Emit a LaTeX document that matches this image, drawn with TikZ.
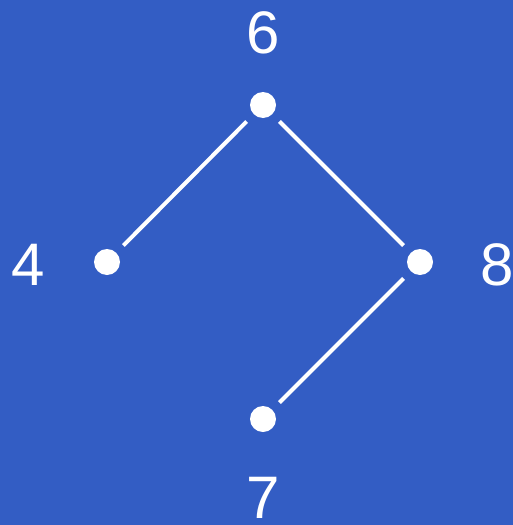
\documentclass[tikz,border=0pt]{standalone}
\usepackage{fontspec}
\setmainfont{Liberation Sans}
\definecolor{bgblue}{RGB}{51,93,196}
\begin{document}
\begin{tikzpicture}[x=1pt,y=-1pt,
  dot/.style={circle,fill=white,draw=none,minimum size=26pt,inner sep=0pt},
  lbl/.style={text=white,inner sep=0pt,font=\fontsize{60}{72}\selectfont},
  edge/.style={draw=white,line width=4pt,shorten <=10pt,shorten >=10pt}]
\fill[bgblue] (0,0) rectangle (513,525);
\useasboundingbox (0,0) rectangle (513,525);
\node[dot] (n6) at (263,105) {};
\node[dot] (n4) at (107,262) {};
\node[dot] (n8) at (420,262) {};
\node[dot] (n7) at (263,419) {};
\node[lbl] (l6) at (263,33) {6};
\node[lbl] (l4) at (28,265) {4};
\node[lbl] (l8) at (497,265) {8};
\node[lbl] (l7) at (263,498) {7};
\draw[edge] (n6) -- (n4);
\draw[edge] (n6) -- (n8);
\draw[edge] (n8) -- (n7);
\end{tikzpicture}
\end{document}
